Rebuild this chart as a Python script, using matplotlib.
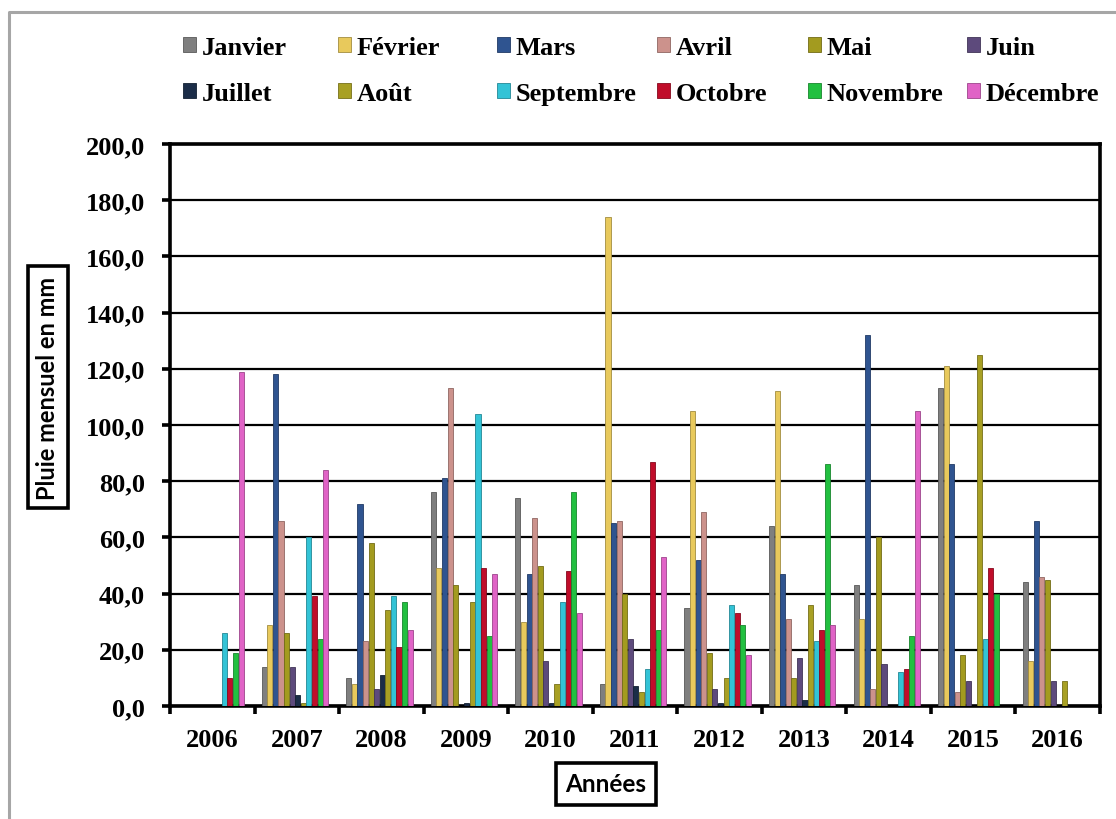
import matplotlib
matplotlib.use("Agg")
import matplotlib.pyplot as plt
import numpy as np
from matplotlib.lines import Line2D
from matplotlib.colors import to_rgb

years = ["2006", "2007", "2008", "2009", "2010", "2011", "2012", "2013", "2014", "2015", "2016"]
months = ["Janvier", "Février", "Mars", "Avril", "Mai", "Juin",
          "Juillet", "Août", "Septembre", "Octobre", "Novembre", "Décembre"]

janvier   = [0, 14, 10, 76, 74, 8, 35, 64, 43, 113, 44]
fevrier   = [0, 29, 8, 49, 30, 174, 105, 112, 31, 121, 16]
mars      = [0, 118, 72, 81, 47, 65, 52, 47, 132, 86, 66]
avril     = [0, 66, 23, 113, 67, 66, 69, 31, 6, 5, 46]
mai       = [0, 26, 58, 43, 50, 40, 19, 10, 60, 18, 45]
juin      = [0, 14, 6, 0, 16, 24, 6, 17, 15, 9, 9]
juillet   = [0, 4, 11, 1, 1, 7, 1, 2, 0, 0, 0]
aout      = [0, 1, 34, 37, 8, 5, 10, 36, 0, 125, 9]
septembre = [26, 60, 39, 104, 37, 13, 36, 23, 12, 24, 0]
octobre   = [10, 39, 21, 49, 48, 87, 33, 27, 13, 49, 0]
novembre  = [19, 24, 37, 25, 76, 27, 29, 86, 25, 40, 0]
decembre  = [119, 84, 27, 47, 33, 53, 18, 29, 105, 0, 0]

series = [janvier, fevrier, mars, avril, mai, juin,
          juillet, aout, septembre, octobre, novembre, decembre]
colors = ["#7f7f7f", "#e8c95c", "#2f5490", "#cc928c", "#a39b1f", "#5d4a7c",
          "#1b2d48", "#a8a024", "#33c3d6", "#c00d2a", "#22c040", "#e063c6"]

W, H = 1116, 820
fig = plt.figure(figsize=(W / 100, H / 100), dpi=100)
fig.patch.set_facecolor("white")

L, R, B, T = 170, 1100, 707, 145
ax = fig.add_axes([L / W, 1 - B / H, (R - L) / W, (B - T) / H])

x = np.arange(len(years))
step = 0.066
bw = 0.060
shift = -0.022
handles = []
for i, (vals, c) in enumerate(zip(series, colors)):
    ec = tuple(v * 0.7 for v in to_rgb(c))
    h = ax.bar(x + shift + (i - 5.5) * step, vals, width=bw, color=c,
               edgecolor=ec, linewidth=0.6, zorder=3, label=months[i])
    handles.append(h)

ax.set_xlim(-0.5, len(years) - 0.5)
ax.set_ylim(0, 200)
ax.set_yticks(np.arange(0, 201, 20))
ax.set_yticklabels([f"{v:.1f}".replace(".", ",") for v in np.arange(0, 201, 20)])
ax.set_xticks(x)
ax.set_xticklabels(years)
ax.set_xticks(np.arange(-0.5, len(years), 1.0), minor=True)

ax.yaxis.grid(True, color="black", linewidth=1.6, zorder=0)
ax.set_axisbelow(True)

for s in ["left", "bottom", "right", "top"]:
    ax.spines[s].set_linewidth(2.6)
    ax.spines[s].set_color("black")

ax.tick_params(axis="y", direction="out", length=6, width=2.6, pad=12)
ax.tick_params(axis="x", which="major", length=0, pad=16)
ax.tick_params(axis="x", which="minor", direction="out", length=6, width=2.6)
for lab in ax.get_yticklabels() + ax.get_xticklabels():
    lab.set_fontfamily("Liberation Serif")
    lab.set_fontweight("bold")
    lab.set_fontsize(19)

box = dict(boxstyle="square,pad=0.38", facecolor="white", edgecolor="black", linewidth=2.6)
ax.set_ylabel("Pluie mensuel en mm", fontfamily="Lato", fontweight="bold", fontsize=17, bbox=box)
ax.yaxis.set_label_coords((48 - L) / (R - L), (B - 388) / (B - T))
ax.yaxis.label.set_va("center")
ax.set_xlabel("Années", fontfamily="Lato", fontweight="bold", fontsize=17.5, bbox=box)
ax.xaxis.set_label_coords((606 - L) / (R - L), (B - 785) / (B - T))
ax.xaxis.label.set_va("center")

# Legend: six columns of two entries
col_x = [183, 338, 497, 657, 808, 967]
for c in range(6):
    fig.legend(handles=[handles[c], handles[c + 6]],
               labels=[months[c], months[c + 6]],
               loc="upper left", bbox_to_anchor=(col_x[c] / W, 1 - 37 / H),
               frameon=False, borderpad=0, borderaxespad=0,
               handlelength=0.5, handleheight=0.5, handletextpad=0.2,
               labelspacing=0.86,
               prop=dict(family="Liberation Serif", weight="bold", size=19))

# outer gray frame
fig.add_artist(Line2D([9 / W, 9 / W, 1.0], [0.0, 1 - 13 / H, 1 - 13 / H],
                      transform=fig.transFigure, color="#a6a6a6", linewidth=2.2))

fig.savefig("out.png", dpi=100)
